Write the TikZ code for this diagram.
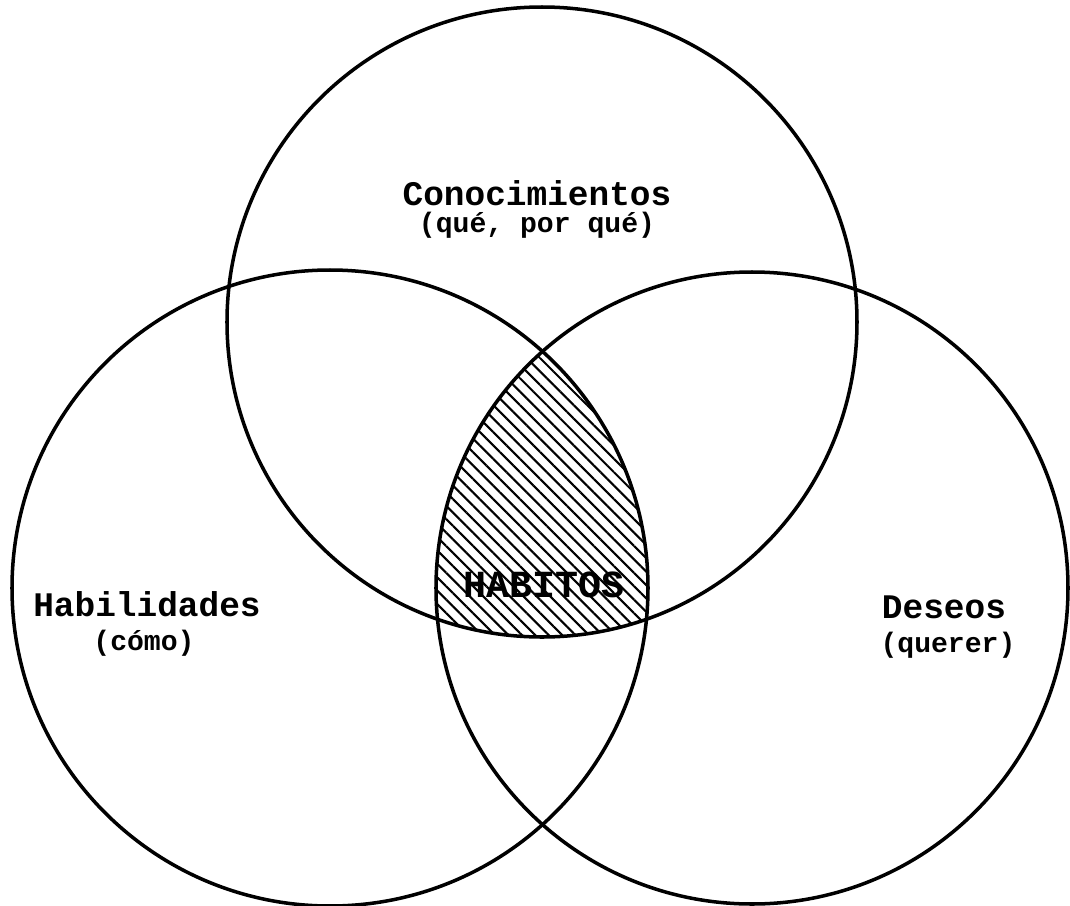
\documentclass[tikz,border=0pt]{standalone}
\usepackage{fontspec}
\newfontfamily\tw{Liberation Mono}
\usetikzlibrary{patterns.meta}
\tikzset{
  ring/.style={draw=black, line width=1pt},
  bigtxt/.style={font=\tw\bfseries\fontsize{9.8}{11}\selectfont, inner sep=0pt},
  smalltxt/.style={font=\tw\bfseries\fontsize{8}{9}\selectfont, inner sep=0pt},
  habtxt/.style={font=\tw\bfseries\fontsize{10.9}{12}\selectfont, inner sep=0pt},
  hatch/.style={pattern={Lines[angle=-45, distance=2.7pt, line width=0.6pt]}, pattern color=black}
}
\begin{document}
\begin{tikzpicture}
\useasboundingbox (0,0) rectangle (10.70,9.05);
\coordinate (ctop) at (5.42,5.83);
\coordinate (cleft) at (3.30,3.17);
\coordinate (cright) at (7.52,3.17);
% hatched common region
\begin{scope}
  \clip (ctop) circle (3.15);
  \clip (cleft) circle (3.18);
  \fill[hatch] (cright) circle (3.16);
\end{scope}
\draw[ring] (ctop) circle (3.15);
\draw[ring] (cleft) circle (3.18);
\draw[ring] (cright) circle (3.16);
% labels
\node[bigtxt] (con) at (5.37,7.12) {Conocimientos};
\node[smalltxt] (conq) at (5.37,6.80) {(qué, por qué)};
\node[bigtxt] (hab) at (1.47,3.01) {Habilidades};
\node[smalltxt] (habq) at (1.44,2.62) {(cómo)};
\node[bigtxt] (des) at (9.44,2.98) {Deseos};
\node[smalltxt] (desq) at (9.48,2.60) {(querer)};
\node[habtxt] (habitos) at (5.44,3.20) {HABITOS};
\end{tikzpicture}
\end{document}
